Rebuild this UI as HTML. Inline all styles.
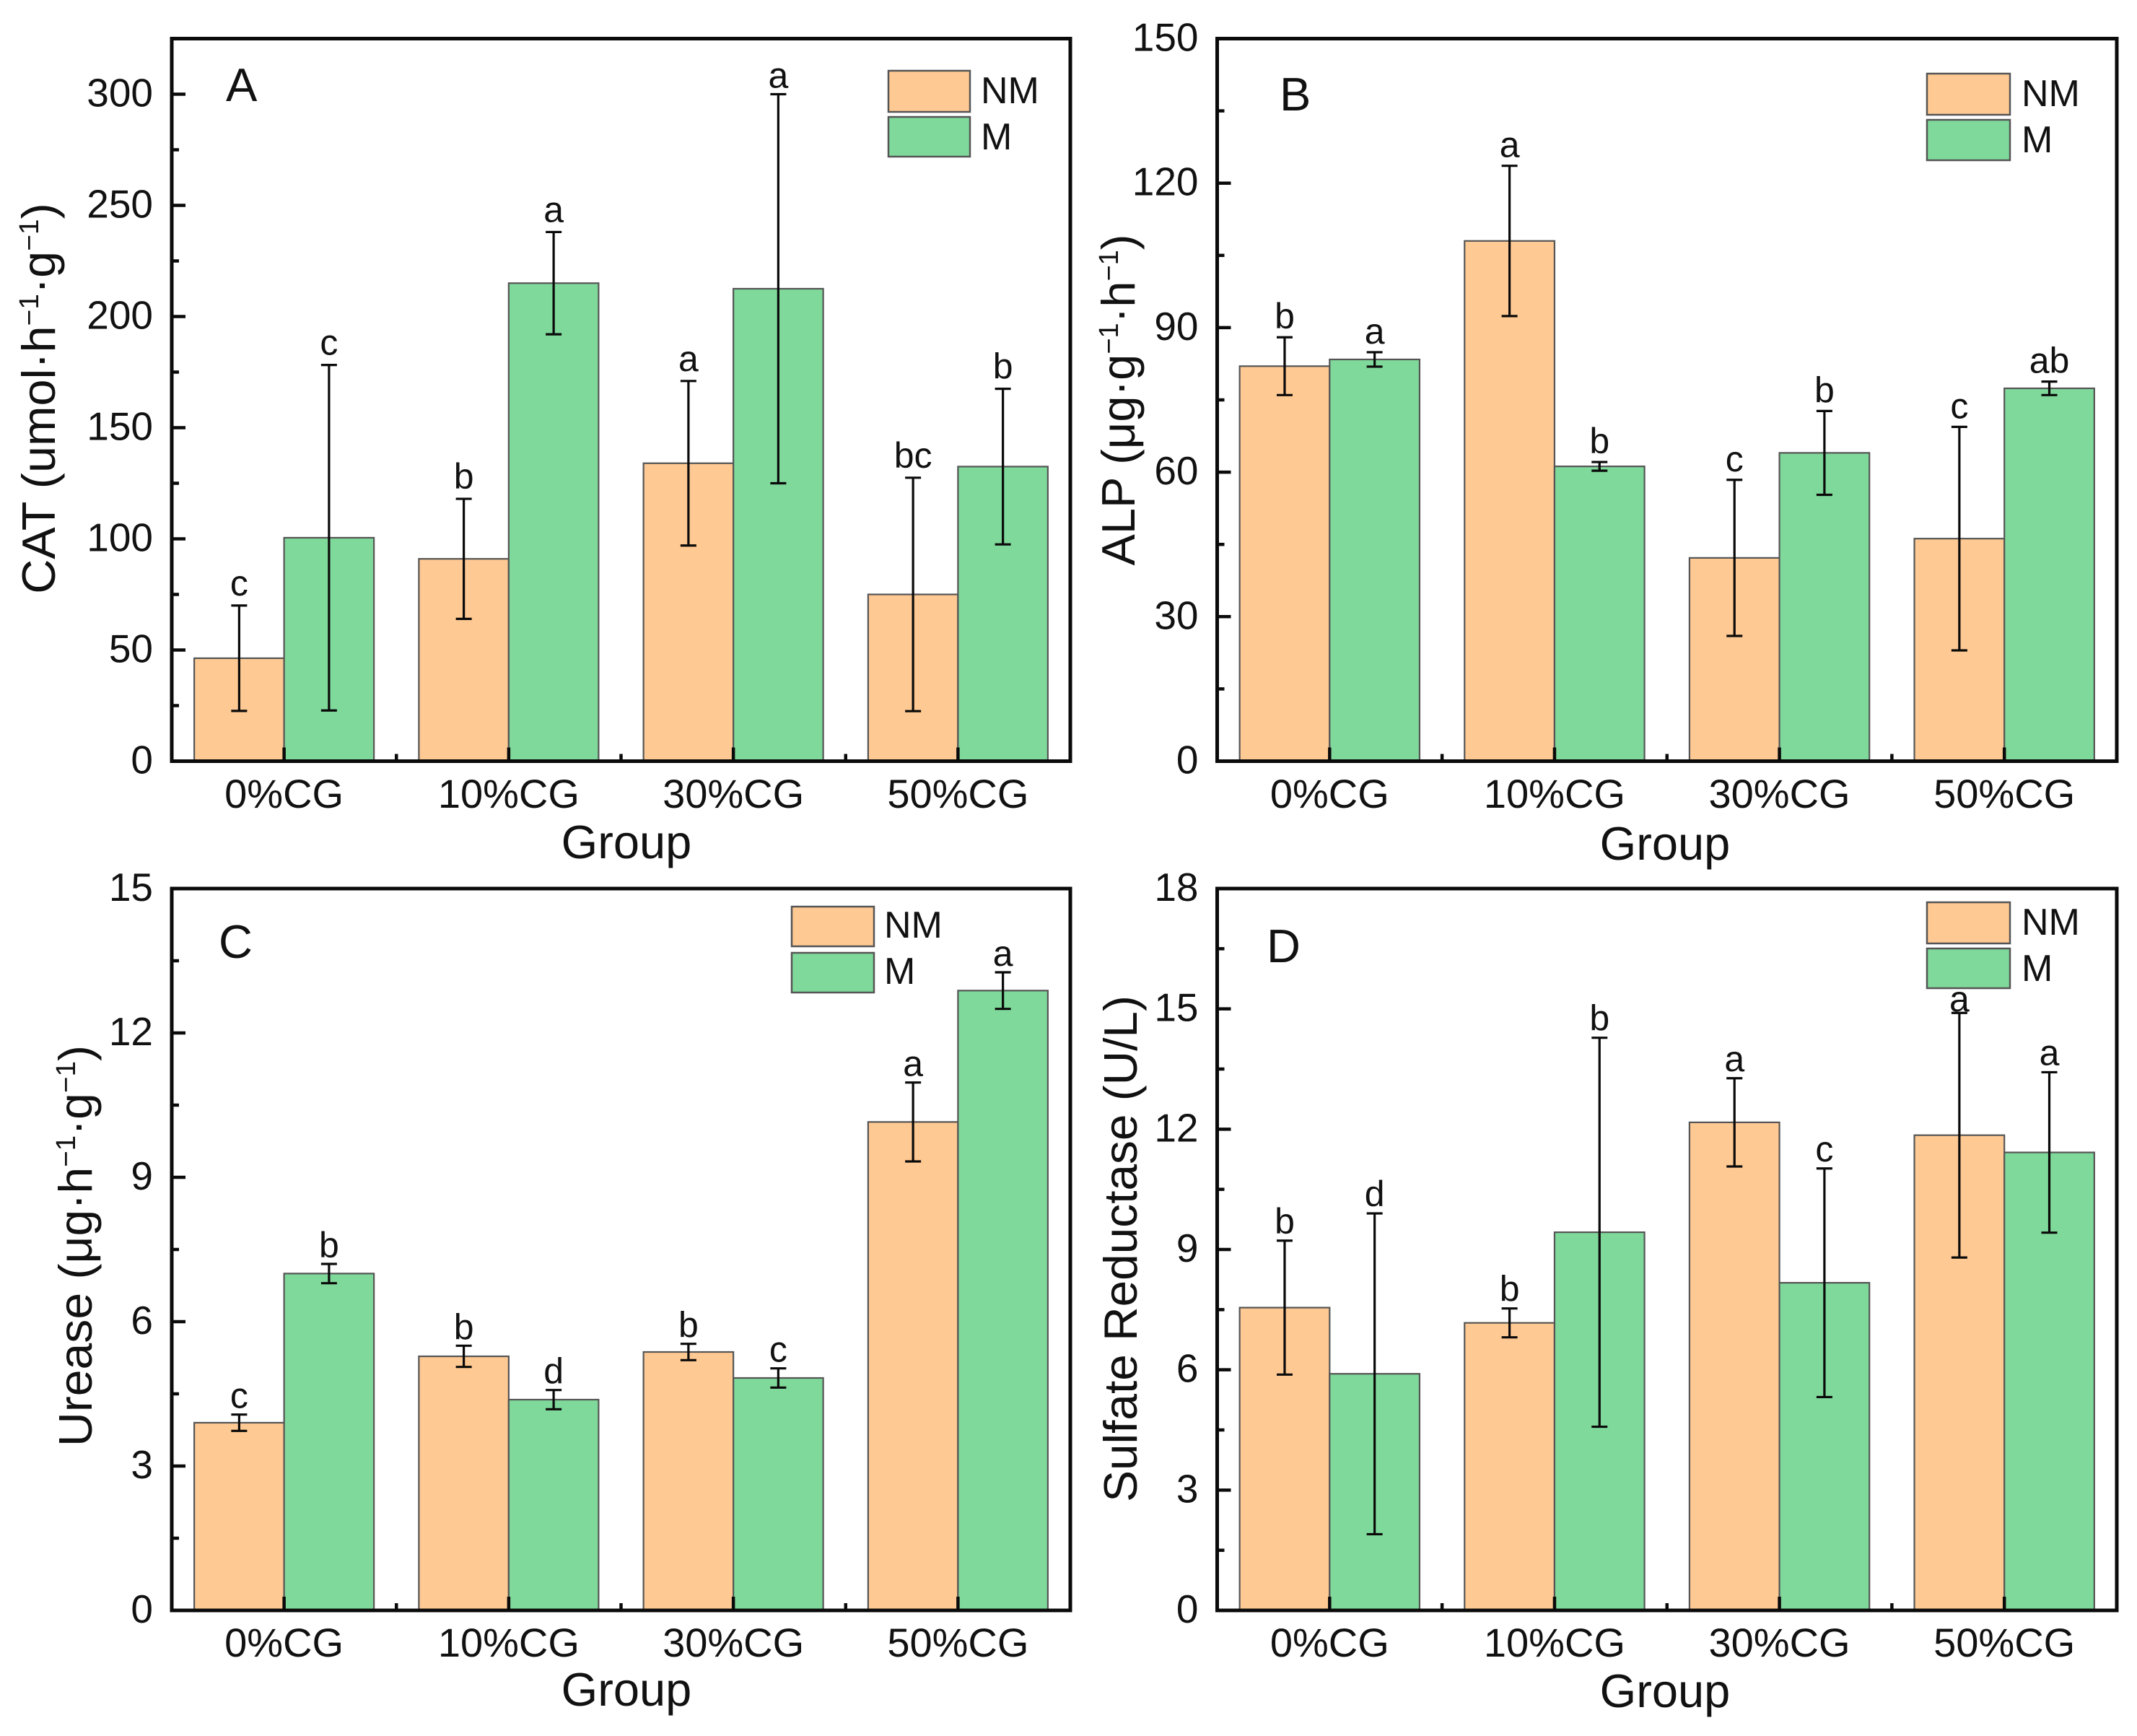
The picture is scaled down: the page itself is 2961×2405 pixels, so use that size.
<!DOCTYPE html>
<html>
<head>
<meta charset="utf-8">
<title>Enzyme activities by group</title>
<style>
html,body{margin:0;padding:0;background:#fff;}
svg{display:block;}
text{font-family:"Liberation Sans",sans-serif;fill:#111;}
.tick{font-size:55px;}
.cat{font-size:56px;}
.title{font-size:65px;}
.lg{font-size:52px;}
.pl{font-size:65px;}
.sw{stroke:#555;stroke-width:2.5;}
</style>
</head>
<body>
<svg id="figure" xmlns="http://www.w3.org/2000/svg" width="2961" height="2405" viewBox="0 0 2961 2405">
<rect x="0" y="0" width="2961" height="2405" fill="#fff"/>

<g id="panel-a"></g>
<g id="panel-b"></g>
<g id="panel-c"></g>
<g id="panel-d"></g>

<!-- Panel A static text -->
<text class="title" transform="translate(76,552) rotate(-90) scale(1.025,1)" text-anchor="middle">CAT (umol·h<tspan font-size="38" dy="-23">−1</tspan><tspan dy="23">·g</tspan><tspan font-size="38" dy="-23">−1</tspan><tspan dy="23">)</tspan></text>
<text class="title" x="868" y="1189" text-anchor="middle">Group</text>
<text class="pl" x="313" y="140">A</text>
<g>
<rect class="sw" x="1231" y="98" width="113" height="57" fill="#FFC993"/>
<rect class="sw" x="1231" y="162" width="113" height="55" fill="#7FD99A"/>
<text class="lg" x="1359" y="143">NM</text>
<text class="lg" x="1359" y="207">M</text>
</g>

<!-- Panel B static text -->
<text class="title" transform="translate(1572,554) rotate(-90)" text-anchor="middle">ALP (μg·g<tspan font-size="38" dy="-23">−1</tspan><tspan dy="23">·h</tspan><tspan font-size="38" dy="-23">−1</tspan><tspan dy="23">)</tspan></text>
<text class="title" x="2307" y="1191" text-anchor="middle">Group</text>
<text class="pl" x="1773" y="153">B</text>
<g>
<rect class="sw" x="2670" y="102" width="115" height="57" fill="#FFC993"/>
<rect class="sw" x="2670" y="166" width="115" height="56" fill="#7FD99A"/>
<text class="lg" x="2801" y="147">NM</text>
<text class="lg" x="2801" y="211">M</text>
</g>

<!-- Panel C static text -->
<text class="title" transform="translate(127,1726) rotate(-90) scale(1.017,1)" text-anchor="middle">Urease (μg·h<tspan font-size="38" dy="-23">−1</tspan><tspan dy="23">·g</tspan><tspan font-size="38" dy="-23">−1</tspan><tspan dy="23">)</tspan></text>
<text class="title" x="868" y="2363" text-anchor="middle">Group</text>
<text class="pl" x="303" y="1327">C</text>
<g>
<rect class="sw" x="1097" y="1256" width="114" height="55" fill="#FFC993"/>
<rect class="sw" x="1097" y="1320" width="114" height="55" fill="#7FD99A"/>
<text class="lg" x="1225" y="1299">NM</text>
<text class="lg" x="1225" y="1363">M</text>
</g>

<!-- Panel D static text -->
<text class="title" transform="translate(1575,1730) rotate(-90) scale(1.012,1)" text-anchor="middle">Sulfate Reductase (U/L)</text>
<text class="title" x="2307" y="2365" text-anchor="middle">Group</text>
<text class="pl" x="1755" y="1333">D</text>
<g>
<rect class="sw" x="2670" y="1250" width="115" height="57" fill="#FFC993"/>
<rect class="sw" x="2670" y="1314" width="115" height="55" fill="#7FD99A"/>
<text class="lg" x="2801" y="1295">NM</text>
<text class="lg" x="2801" y="1359">M</text>
</g>
</svg>

<script>
var categories = ["0%CG", "10%CG", "30%CG", "50%CG"];

var aTicks = [0, 50, 100, 150, 200, 250, 300];
var aMax = [325];
var aNM = [46.3, 91, 134, 75];
var aM = [100.5, 215, 212.5, 132.5];
var aNMErr = [23.7, 27, 37, 52.5];
var aMErr = [77.7, 23, 87.5, 35];
var aNMLetters = ["c", "b", "a", "bc"];
var aMLetters = ["c", "a", "a", "b"];

var bTicks = [0, 30, 60, 90, 120, 150];
var bMax = [150];
var bNM = [82, 108, 42.2, 46.2];
var bM = [83.4, 61.2, 64, 77.4];
var bNMErr = [6, 15.6, 16.2, 23.2];
var bMErr = [1.5, 0.9, 8.7, 1.4];
var bNMLetters = ["b", "a", "c", "c"];
var bMLetters = ["a", "b", "b", "ab"];

var cTicks = [0, 3, 6, 9, 12, 15];
var cMax = [15];
var cNM = [3.9, 5.28, 5.37, 10.15];
var cM = [7, 4.38, 4.83, 12.88];
var cNMErr = [0.17, 0.22, 0.17, 0.82];
var cMErr = [0.2, 0.2, 0.2, 0.38];
var cNMLetters = ["c", "b", "b", "a"];
var cMLetters = ["b", "d", "c", "a"];

var dTicks = [0, 3, 6, 9, 12, 15, 18];
var dMax = [18];
var dNM = [7.55, 7.17, 12.17, 11.85];
var dM = [5.9, 9.43, 8.17, 11.42];
var dNMErr = [1.67, 0.36, 1.1, 3.05];
var dMErr = [4, 4.85, 2.85, 2];
var dNMLetters = ["b", "b", "a", "a"];
var dMLetters = ["d", "b", "c", "a"];

var SVGNS = "http://www.w3.org/2000/svg";

function make(parent, tag, attrs) {
  var el = document.createElementNS(SVGNS, tag);
  for (var k in attrs) { el.setAttribute(k, attrs[k]); }
  parent.appendChild(el);
  return el;
}

function drawPanel(key, box, ticks, yMax, nm, m, nmErr, mErr, nmLetters, mLetters) {
  var root = document.getElementById("panel-" + key);
  var catW = (box.right - box.left) / categories.length;
  var barW = catW * 0.4;
  function xScale(i) { return box.left + catW * (i + 0.5); }
  function yScale(v) { return box.bottom - (v / yMax) * (box.bottom - box.top); }
  var series = [
    { id: "nm", vals: nm, errs: nmErr, letters: nmLetters, fill: "#FFC993", off: -1 },
    { id: "m", vals: m, errs: mErr, letters: mLetters, fill: "#7FD99A", off: 0 }
  ];

  series.forEach(function (s) {
    s.vals.forEach(function (v, i) {
      var bar = make(root, "rect", {
        x: xScale(i) + s.off * barW, y: yScale(v), width: barW, height: box.bottom - yScale(v),
        fill: s.fill, stroke: "#555", "stroke-width": 2.2
      });
      
      
    });
  });

  series.forEach(function (s) {
    s.vals.forEach(function (v, i) {
      var cx = xScale(i) + (s.off + 0.5) * barW;
      var hi = yScale(v + s.errs[i]);
      var lo = yScale(v - s.errs[i]);
      var d = "M" + cx + " " + hi + "V" + lo + "M" + (cx - 11) + " " + hi + "H" + (cx + 11) + "M" + (cx - 11) + " " + lo + "H" + (cx + 11);
      var err = make(root, "path", { d: d, fill: "none", stroke: "#0a0a0a", "stroke-width": 3.2 });
      
      
      var over = box.gapOverride && box.gapOverride[s.id + "-" + i];
      var gap = over !== undefined && over !== null ? over : box.gap;
      var lab = make(root, "text", { x: cx, y: hi - gap, "text-anchor": "middle", "font-size": 50 });
      lab.textContent = s.letters[i];
      
      
    });
  });

  var step = ticks[1] - ticks[0];
  ticks.forEach(function (t, idx) {
    var y = yScale(t);
    if (t > 0 && t < yMax) {
      var tk = make(root, "line", { x1: box.left, x2: box.left + 19, y1: y, y2: y, stroke: "#0a0a0a", "stroke-width": 4.5 });
      
      
    }
    var mv = t + step / 2;
    if (mv < yMax) {
      var my = yScale(mv);
      var mk = make(root, "line", { x1: box.left, x2: box.left + 10, y1: my, y2: my, stroke: "#0a0a0a", "stroke-width": 4.5 });
      
      
    }
    var tl = make(root, "text", { x: box.left - 26, y: y + 17, "text-anchor": "end", "class": "tick" });
    tl.textContent = t;
    
    
  });

  categories.forEach(function (c, i) {
    var x = xScale(i);
    var tk = make(root, "line", { x1: x, x2: x, y1: box.bottom, y2: box.bottom - 19, stroke: "#0a0a0a", "stroke-width": 4.5 });
    
    
    if (i < categories.length - 1) {
      var mx = x + catW / 2;
      var mk = make(root, "line", { x1: mx, x2: mx, y1: box.bottom, y2: box.bottom - 10, stroke: "#0a0a0a", "stroke-width": 4.5 });
      
      
    }
    var tl = make(root, "text", { x: x, y: box.labelY, "text-anchor": "middle", "class": "cat" });
    tl.textContent = c;
    
    
  });

  var frame = make(root, "rect", {
    x: box.left, y: box.top, width: box.right - box.left, height: box.bottom - box.top,
    fill: "none", stroke: "#0a0a0a", "stroke-width": 5
  });
  
  
}

drawPanel("a", { left: 238, right: 1483, top: 53.5, bottom: 1054.5, labelY: 1119, gap: 14, gapOverride: { "m-2": 9 } }, aTicks, aMax[0], aNM, aM, aNMErr, aMErr, aNMLetters, aMLetters);
drawPanel("b", { left: 1686.5, right: 2933, top: 53.5, bottom: 1054.5, labelY: 1119, gap: 12 }, bTicks, bMax[0], bNM, bM, bNMErr, bMErr, bNMLetters, bMLetters);
drawPanel("c", { left: 238, right: 1483, top: 1231, bottom: 2231, labelY: 2295, gap: 9 }, cTicks, cMax[0], cNM, cM, cNMErr, cMErr, cNMLetters, cMLetters);
drawPanel("d", { left: 1686.5, right: 2933, top: 1231, bottom: 2231, labelY: 2295, gap: 10, gapOverride: { "nm-3": 2 } }, dTicks, dMax[0], dNM, dM, dNMErr, dMErr, dNMLetters, dMLetters);
</script>
</body>
</html>
